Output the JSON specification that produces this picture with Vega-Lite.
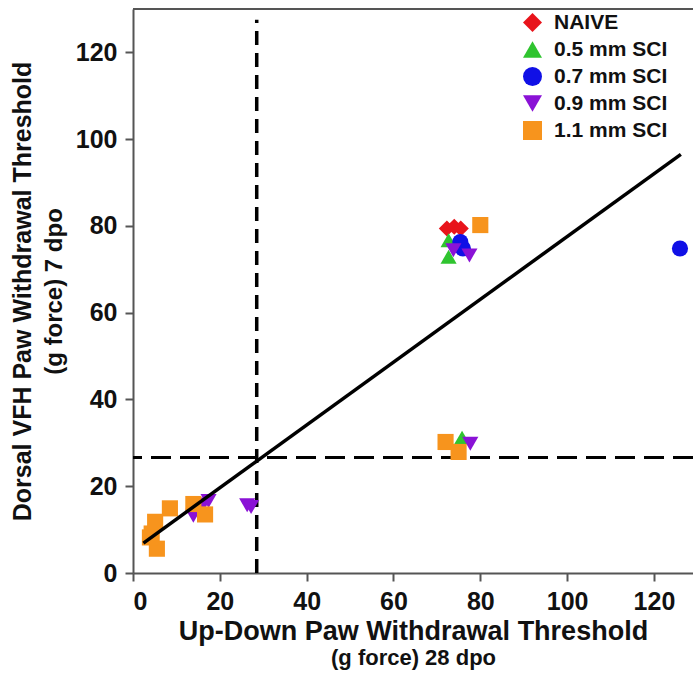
{
  "$schema": "https://vega.github.io/schema/vega-lite/v6.json",
  "autosize": {"type": "none"},
  "padding": {"left": 133, "top": 9, "right": 0, "bottom": 103},
  "width": 560,
  "height": 564,
  "background": "white",
  "config": {
    "view": {"stroke": null},
    "font": "Liberation Sans",
    "axis": {"grid": false}
  },
  "datasets": {
    "points": [
      {"group": "NAIVE", "x": 72.3, "y": 79.4},
      {"group": "NAIVE", "x": 74.0, "y": 79.8},
      {"group": "NAIVE", "x": 75.5, "y": 79.4},
      {"group": "0.5 mm SCI", "x": 72.7, "y": 76.7},
      {"group": "0.5 mm SCI", "x": 72.7, "y": 72.9},
      {"group": "0.5 mm SCI", "x": 75.8, "y": 31.2},
      {"group": "0.7 mm SCI", "x": 75.4, "y": 76.3},
      {"group": "0.7 mm SCI", "x": 76.0, "y": 74.8},
      {"group": "0.7 mm SCI", "x": 126.0, "y": 74.8},
      {"group": "0.9 mm SCI", "x": 73.8, "y": 74.4},
      {"group": "0.9 mm SCI", "x": 77.5, "y": 73.2},
      {"group": "0.9 mm SCI", "x": 77.7, "y": 29.8},
      {"group": "0.9 mm SCI", "x": 13.9, "y": 13.2},
      {"group": "0.9 mm SCI", "x": 16.2, "y": 15.8},
      {"group": "0.9 mm SCI", "x": 17.4, "y": 16.6},
      {"group": "0.9 mm SCI", "x": 26.3, "y": 15.6},
      {"group": "0.9 mm SCI", "x": 27.2, "y": 15.2},
      {"group": "1.1 mm SCI", "x": 80.0, "y": 80.2},
      {"group": "1.1 mm SCI", "x": 72.0, "y": 30.2},
      {"group": "1.1 mm SCI", "x": 75.0, "y": 27.9},
      {"group": "1.1 mm SCI", "x": 5.5, "y": 5.6},
      {"group": "1.1 mm SCI", "x": 4.3, "y": 9.1},
      {"group": "1.1 mm SCI", "x": 5.1, "y": 11.8},
      {"group": "1.1 mm SCI", "x": 8.5, "y": 14.9},
      {"group": "1.1 mm SCI", "x": 13.9, "y": 15.9},
      {"group": "1.1 mm SCI", "x": 16.6, "y": 13.5},
      {"group": "1.1 mm SCI", "x": 3.9, "y": 8.2}
    ],
    "fit": [
      {"x": 2.4, "y": 6.9},
      {"x": 126.2, "y": 96.5}
    ],
    "vline": [{"x": 28.5, "y": 0, "y2": 127.5}],
    "hline": [{"y": 26.6}],
    "frame": [{"y": 130}]
  },
  "layer": [
    {
      "data": {"name": "frame"},
      "mark": {"type": "rule", "color": "#555555", "strokeWidth": 2},
      "encoding": {"y": {"field": "y", "type": "quantitative", "axis": null}}
    },
    {
      "data": {"name": "vline"},
      "mark": {"type": "rule", "color": "black", "strokeWidth": 3.5, "strokeDash": [14, 8]},
      "encoding": {
        "x": {"field": "x", "type": "quantitative", "axis": null},
        "y": {"field": "y", "type": "quantitative", "axis": null},
        "y2": {"field": "y2"}
      }
    },
    {
      "data": {"name": "hline"},
      "mark": {"type": "rule", "color": "black", "strokeWidth": 3, "strokeDash": [20, 9]},
      "encoding": {"y": {"field": "y", "type": "quantitative", "axis": null}}
    },
    {
      "data": {"name": "points"},
      "mark": {"type": "point", "filled": true, "opacity": 1, "size": 260},
      "encoding": {
        "x": {
          "field": "x", "type": "quantitative",
          "scale": {"domain": [0, 129], "nice": false, "zero": false},
          "axis": {
            "orient": "bottom",
            "values": [0, 20, 40, 60, 80, 100, 120],
            "labelFontSize": 25, "labelFontWeight": "bold", "labelColor": "#111",
            "labelPadding": 8,
            "domainColor": "#555555", "domainWidth": 2,
            "tickColor": "#555555", "tickWidth": 2, "tickSize": 8,
            "title": "Up-Down Paw Withdrawal Threshold",
            "titleFontSize": 27, "titleFontWeight": "bold", "titleColor": "#111",
            "titlePadding": 4
          }
        },
        "y": {
          "field": "y", "type": "quantitative",
          "scale": {"domain": [0, 130], "nice": false, "zero": false},
          "axis": {
            "orient": "left",
            "values": [0, 20, 40, 60, 80, 100, 120],
            "labelFontSize": 25, "labelFontWeight": "bold", "labelColor": "#111",
            "labelPadding": 8,
            "domainColor": "#555555", "domainWidth": 2,
            "tickColor": "#555555", "tickWidth": 2, "tickSize": 8,
            "title": "(g force) 7 dpo",
            "titleFontSize": 24, "titleFontWeight": "bold", "titleColor": "#111",
            "titlePadding": 9
          }
        },
        "color": {
          "field": "group", "type": "nominal",
          "scale": {
            "domain": ["NAIVE", "0.5 mm SCI", "0.7 mm SCI", "0.9 mm SCI", "1.1 mm SCI"],
            "range": ["#e8141b", "#2fc42f", "#1010e6", "#8a12d6", "#f7941d"]
          },
          "legend": {
            "orient": "none", "legendX": 389, "legendY": 3,
            "title": null, "padding": 0,
            "labelFontSize": 21, "labelFontWeight": "bold", "labelColor": "#111",
            "symbolSize": 360, "symbolStrokeWidth": 0, "symbolOpacity": 1,
            "rowPadding": 5, "labelOffset": 11
          }
        },
        "shape": {
          "field": "group", "type": "nominal",
          "scale": {
            "domain": ["NAIVE", "0.5 mm SCI", "0.7 mm SCI", "0.9 mm SCI", "1.1 mm SCI"],
            "range": ["diamond", "triangle-up", "circle", "triangle-down", "square"]
          }
        }
      }
    },
    {
      "data": {"name": "fit"},
      "mark": {"type": "line", "color": "black", "strokeWidth": 3.5},
      "encoding": {
        "x": {
          "field": "x", "type": "quantitative",
          "axis": {
            "orient": "bottom", "labels": false, "ticks": false,
            "domain": true, "domainOpacity": 0,
            "title": "(g force) 28 dpo",
            "titleFontSize": 22, "titleFontWeight": "bold", "titleColor": "#111",
            "titlePadding": 74
          }
        },
        "y": {
          "field": "y", "type": "quantitative",
          "axis": {
            "orient": "left", "labels": false, "ticks": false,
            "domain": true, "domainOpacity": 0,
            "title": "Dorsal VFH Paw Withdrawal Threshold",
            "titleFontSize": 25, "titleFontWeight": "bold", "titleColor": "#111",
            "titlePadding": 98
          }
        }
      }
    }
  ],
  "resolve": {"axis": {"x": "independent", "y": "independent"}}
}
